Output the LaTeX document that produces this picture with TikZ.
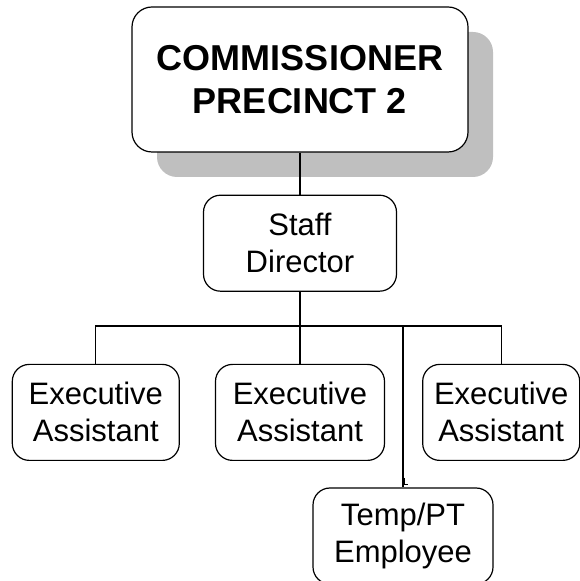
\documentclass[tikz,border=0pt]{standalone}
\usepackage{fontspec}
\setmainfont{Liberation Sans}
\usetikzlibrary{positioning}

\begin{document}
\begin{tikzpicture}[
			x=1pt, y=1pt,
			node distance=42pt and 35pt,
			every node/.style={draw, line width=1.2pt, rectangle, rounded corners=17pt, align=center, inner sep=0pt},
			chief/.style={rounded corners=20pt, minimum width=336pt, minimum height=145pt, fill=white, font=\fontsize{36}{43}\selectfont\bfseries},
			staffbox/.style={minimum height=96pt, fill=white, font=\fontsize{31}{37}\selectfont},
			link/.style={line width=1.2pt}
			]
			\useasboundingbox (0,0) rectangle (579,581);
			
			% Shadow and top box
			\fill [black!25, rounded corners=20pt] (157,404) rectangle (493,404+145);
			\node (chief) [chief] at (300,501.5) {COMMISSIONER\\PRECINCT 2};
			
			% Nodes
			\node (director) [staffbox, minimum width=193pt, below=of chief] {Staff\\Director};
			\node (assist2) [staffbox, minimum width=169pt, below=72pt of director] {Executive\\Assistant};
			\node (assist1) [staffbox, minimum width=167pt, left=of assist2] {Executive\\Assistant};
			\node (assist3) [staffbox, minimum width=157pt, right=37pt of assist2] {Executive\\Assistant};
			\node (temp) [staffbox, minimum width=180pt] at (403,45) {Temp/PT\\Employee};
			\coordinate (bar) at (300,255);
			
			% Connections
			\draw [link] (chief) -- (director);
			\draw [link] (director) -- (bar);
			\draw [link] (bar) -| (assist1.north);
			\draw [link] (bar) -- (assist2.north);
			\draw [link] (bar) -| (assist3.north);
			\draw [link] (bar) -| (temp.north);
			\draw [line width=0.4pt] (404,103) |- (408,97);
			
		\end{tikzpicture}
\end{document}
